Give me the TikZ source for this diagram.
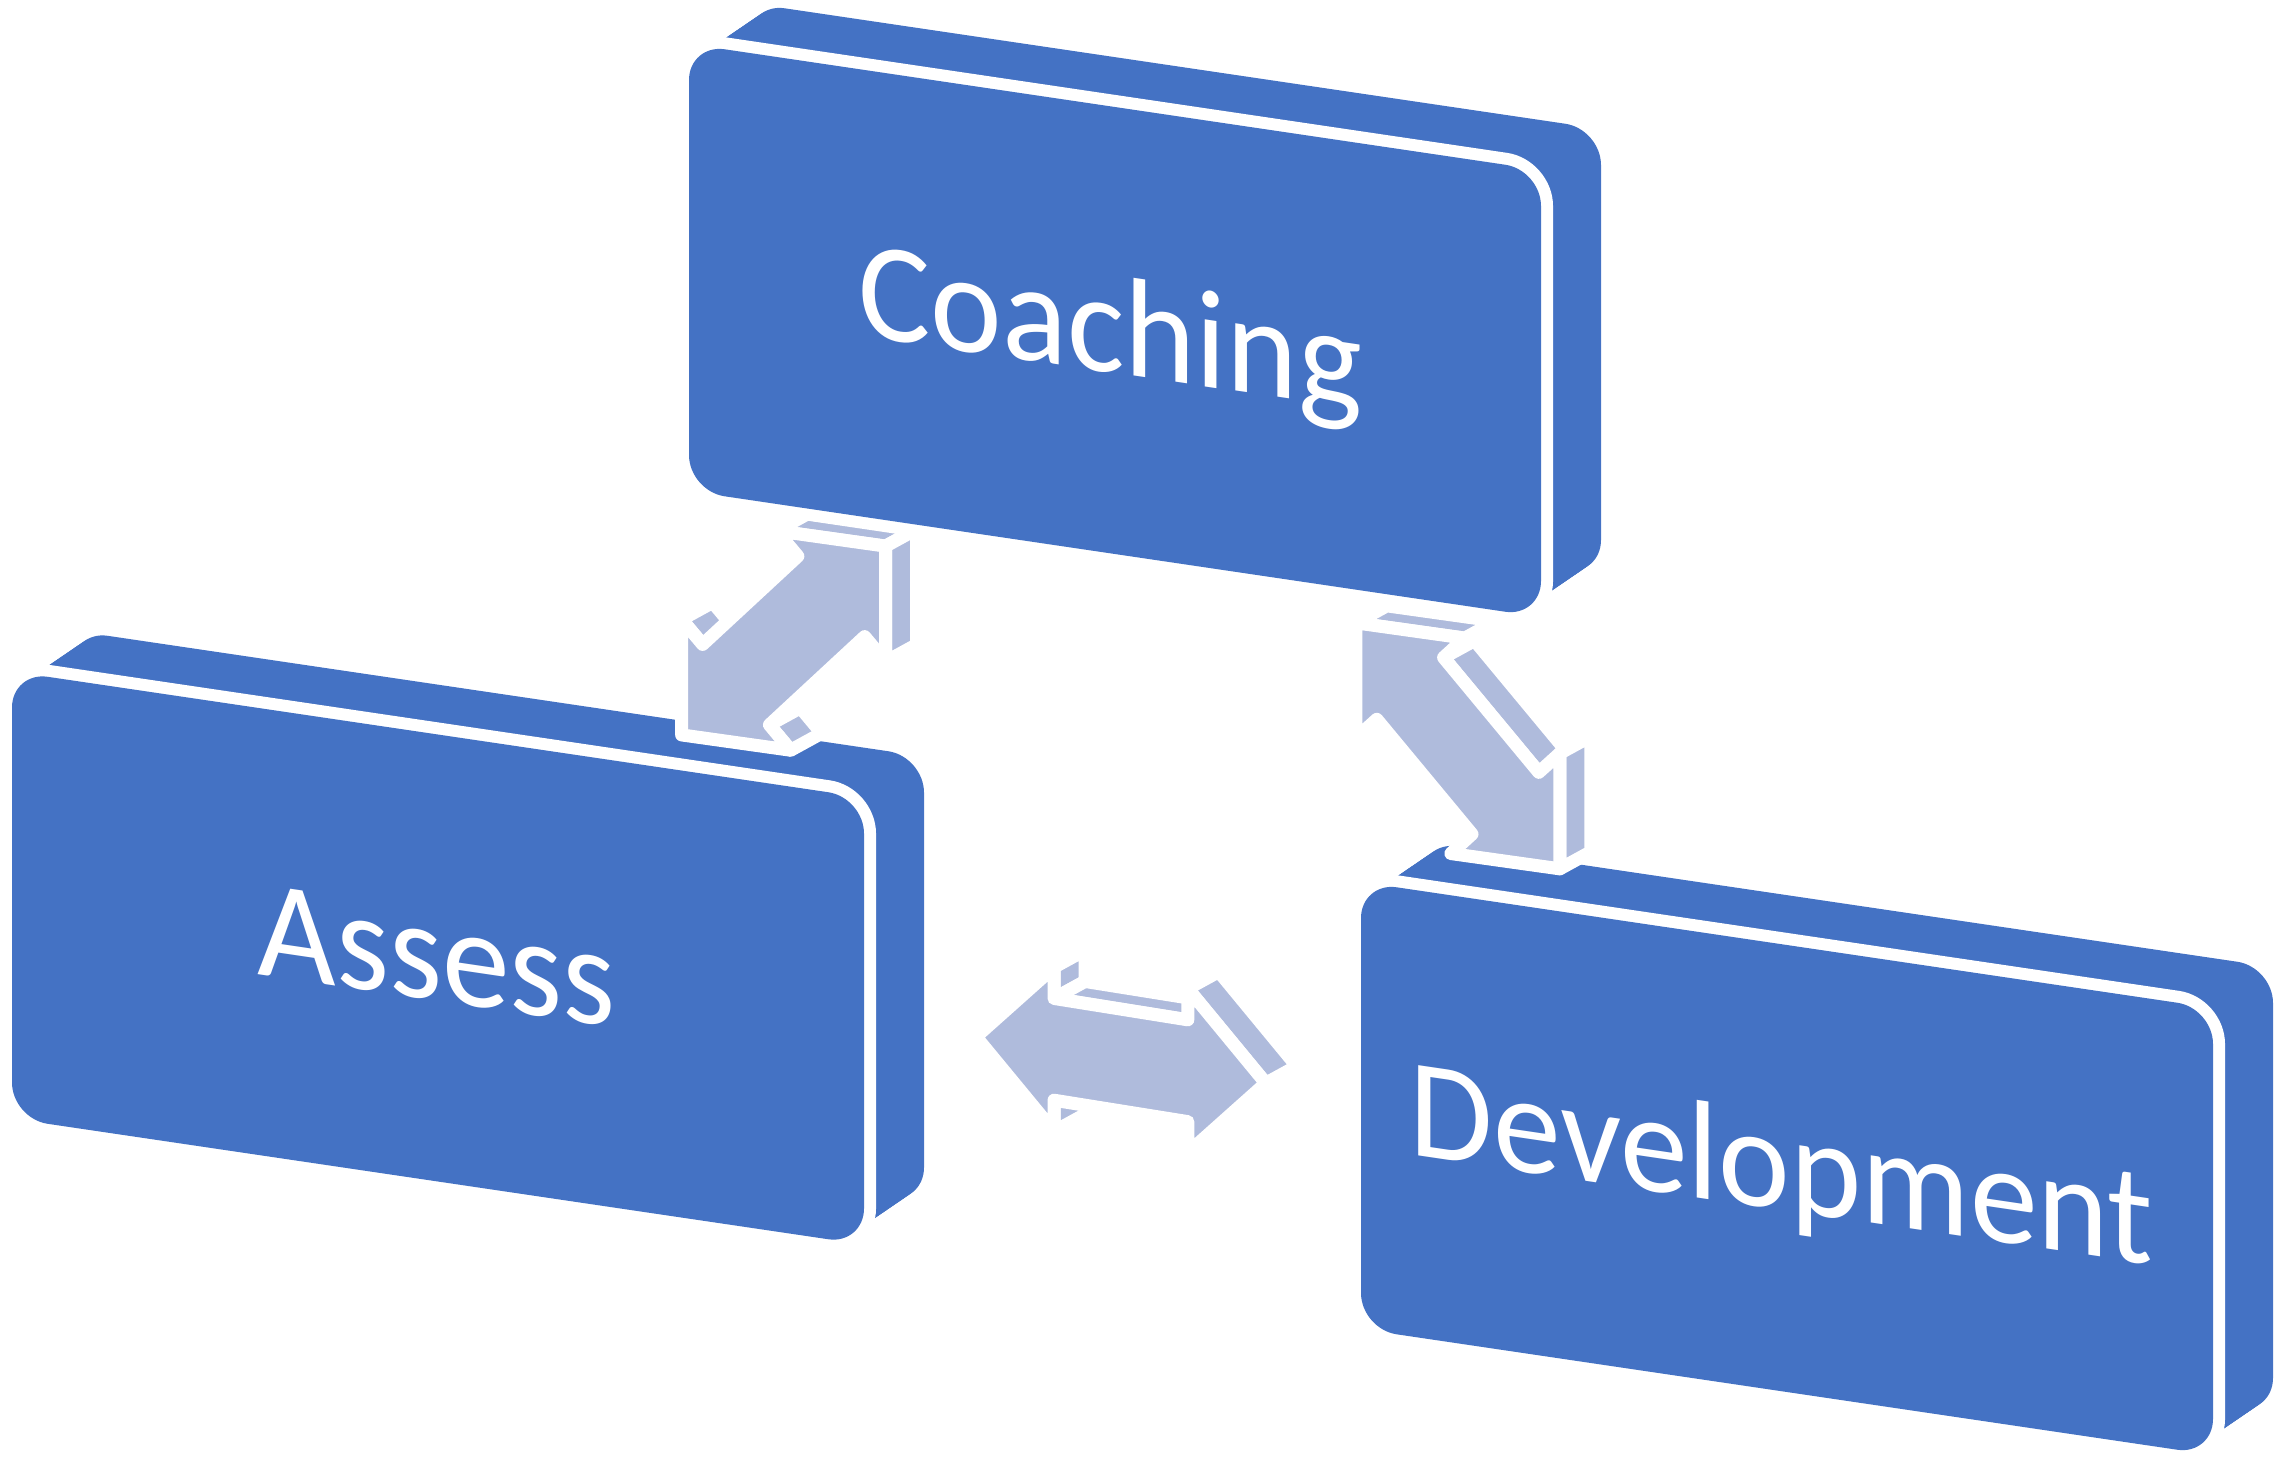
\documentclass[tikz,border=0pt]{standalone}
\usepackage{fontspec}
\newfontfamily\carl{Carlito}
\definecolor{boxblue}{RGB}{68,114,196}
\definecolor{arrowblue}{RGB}{175,187,220}
\newcommand\threedbox[2]{%
  \foreach \t in {0,...,24}{%
    \fill[boxblue, rounded corners=0.36cm] ({#1+2.5*\t},{#2-1.708*\t}) -- ++(852,126) -- ++(0,447) -- ++(-852,-126) -- cycle;}
  \path[draw=white, line width=0.24cm, rounded corners=0.36cm] (#1,#2) -- ++(852,126) -- ++(0,447) -- ++(-852,-126) -- cycle;
  \fill[boxblue, rounded corners=0.36cm] (#1,#2) -- ++(852,126) -- ++(0,447) -- ++(-852,-126) -- cycle;
}
\newcommand\sface[4]{\filldraw[arrowface] (#1,#2) -- (#3,#4) -- ({#3+31},{#4-17}) -- ({#1+31},{#2-17}) -- cycle;}
\begin{document}
\begin{tikzpicture}[x=0.01cm, y=-0.01cm,
  arrowface/.style={fill=arrowblue, draw=white, line width=0.13cm, line join=round},
  boxlabel/.style={cm={0.965,-0.1428,0,1,(0,0)}, transform shape, anchor=base west,
    inner sep=0pt, outer sep=0pt, text=white, font=\carl\fontsize{40}{48}\selectfont}]
\useasboundingbox (0,0) rectangle (2284,1465);

% lower boxes
\threedbox{12}{671.5}
\threedbox{1361}{882}

\begin{scope}[shift={(257.5,974)}]
  \node[boxlabel] (assess) at (0,0) {Assess};
\end{scope}
\begin{scope}[shift={(1409.7,1154.9)}]
  \node[boxlabel] (development) at (0,0) {Development};
\end{scope}

% arrow Assess <-> Coaching
\def\arrowA{(885.65,546.1) -- (885.65,661.6) -- (864.65,636.6) -- (769.45,724.8) -- (790.65,750.2) -- (681.65,734.9) -- (681.65,619.4) -- (702.65,644.4) -- (797.85,556.2) -- (776.65,530.8) -- cycle}
\filldraw[arrowface, shift={(31,-17)}] \arrowA;
\sface{864.65}{636.6}{769.45}{724.8}
\sface{769.45}{724.8}{790.65}{750.2}
\sface{681.65}{619.4}{702.65}{644.4}
\sface{776.65}{530.8}{885.65}{546.1}
\sface{885.65}{546.1}{885.65}{661.6}
\filldraw[arrowface] \arrowA;

% arrow Coaching <-> Development
\def\arrowB{(1355.8,622.8) -- (1355.8,738.3) -- (1376.8,719.3) -- (1472.0,834.1) -- (1450.8,853.5) -- (1559.8,868.8) -- (1559.8,753.3) -- (1538.8,772.3) -- (1443.6,657.5) -- (1464.8,638.1) -- cycle}
\filldraw[arrowface, shift={(31,-17)}] \arrowB;
\sface{1355.8}{738.3}{1376.8}{719.3}
\sface{1443.6}{657.5}{1464.8}{638.1}
\sface{1538.8}{772.3}{1443.6}{657.5}
\sface{1464.8}{638.1}{1355.8}{622.8}
\sface{1559.8}{868.8}{1559.8}{753.3}
\filldraw[arrowface] \arrowB;

% arrow Assess <-> Development
\def\arrowC{(976.0,1036.8) -- (1054.0,967.2) -- (1054.0,998.4) -- (1187.8,1019.8) -- (1187.8,988.6) -- (1265.8,1083.2) -- (1187.8,1152.8) -- (1187.8,1121.6) -- (1054.0,1100.2) -- (1054.0,1131.4) -- cycle}
\filldraw[arrowface, shift={(31,-17)}] \arrowC;
\sface{1265.8}{1083.2}{1187.8}{1152.8}
\sface{1054.0}{1100.2}{1054.0}{1131.4}
\sface{1054.0}{967.2}{1054.0}{998.4}
\sface{1054.0}{998.4}{1187.8}{1019.8}
\sface{1187.8}{988.6}{1265.8}{1083.2}
\filldraw[arrowface] \arrowC;

% top box
\threedbox{689}{44}
\begin{scope}[shift={(858.3,335.3)}]
  \node[boxlabel] (coaching) at (0,0) {Coaching};
\end{scope}
\end{tikzpicture}
\end{document}
